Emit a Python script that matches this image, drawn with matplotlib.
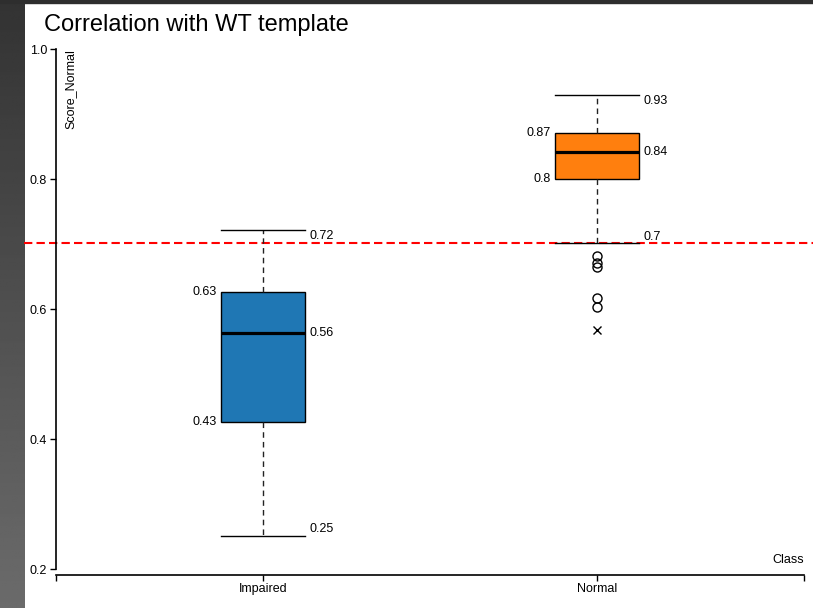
import matplotlib
matplotlib.use("Agg")
import matplotlib.pyplot as plt
import numpy as np

plt.rcParams['font.family'] = ['Liberation Sans', 'DejaVu Sans']

# ---- data ----
classes = ["Impaired", "Normal"]
whislo = [0.252, 0.702]
q1 = [0.427, 0.801]
med = [0.563, 0.842]
q3 = [0.627, 0.872]
whishi = [0.722, 0.929]
outliers = [[], [0.682, 0.671, 0.665, 0.617, 0.603]]
extremes = [[], [0.568]]
threshold = 0.702
box_colors = ["#1f77b4", "#ff7f0e"]
yticks = [0.2, 0.4, 0.6, 0.8, 1.0]

W, H = 813, 608
fig = plt.figure(figsize=(W / 100, H / 100), dpi=100, facecolor="white")

# left gradient strip and top dark strip
gax = fig.add_axes([0, 0, 24 / W, 1])
grad = np.linspace(0.2, 0.42, 256).reshape(-1, 1)
gax.imshow(grad, aspect="auto", cmap="gray", vmin=0, vmax=1, extent=[0, 1, 1, 0])
gax.axis("off")
fig.patches.append(plt.Rectangle((0, 1 - 3 / H), 1, 3 / H, transform=fig.transFigure,
                                 color="#2e2e2e", zorder=5))

left_px, right_px = 55.5, 804
top_px, bot_px = 49.3, 569.3
ax = fig.add_axes([left_px / W, 1 - bot_px / H, (right_px - left_px) / W, (bot_px - top_px) / H])
ax.set_facecolor("none")

positions = np.arange(len(classes))
stats = []
for i, c in enumerate(classes):
    stats.append(dict(label=c, whislo=whislo[i], q1=q1[i], med=med[i], q3=q3[i],
                      whishi=whishi[i], fliers=np.array(outliers[i])))

bp = ax.bxp(stats, positions=positions, widths=0.25, capwidths=0.25, patch_artist=True,
            showfliers=True,
            boxprops=dict(edgecolor="black", linewidth=1.0),
            medianprops=dict(color="black", linewidth=2.3),
            whiskerprops=dict(color="#222222", linewidth=1.0, linestyle=(0, (4, 3))),
            capprops=dict(color="black", linewidth=1.0),
            flierprops=dict(marker="o", markerfacecolor="none", markeredgecolor="black",
                            markersize=6.5, markeredgewidth=1.0, linestyle="none"))
for patch, col in zip(bp["boxes"], box_colors):
    patch.set_facecolor(col)

for i in positions:
    if extremes[i]:
        ax.plot([i] * len(extremes[i]), extremes[i], linestyle="none", marker="x",
                color="black", markersize=6, markeredgewidth=1.0)

# threshold line spanning the white area
ax.axhline(threshold, xmin=-(left_px - 24) / (right_px - left_px),
           xmax=1 + (W - right_px) / (right_px - left_px),
           color="red", linestyle=(0, (4, 2)), linewidth=1.5, clip_on=False, zorder=1)

def fmt(v):
    return f"{round(v, 2):g}"

hw = 0.125
dx = 0.015
fs = 9
for i in positions:
    ax.text(i + hw + dx, whishi[i], fmt(whishi[i]), ha="left", va="top", fontsize=fs)
    ax.text(i + hw + dx, med[i], fmt(med[i]), ha="left", va="center", fontsize=fs)
    ax.text(i + hw + dx, whislo[i], fmt(whislo[i]), ha="left", va="bottom", fontsize=fs)
    ax.text(i - hw - dx, q3[i], fmt(q3[i]), ha="right", va="center", fontsize=fs)
    ax.text(i - hw - dx, q1[i], fmt(q1[i]), ha="right", va="center", fontsize=fs)

xl = (-0.622, 1.62)
ax.set_xlim(*xl)
ax.set_ylim(0.2, 1.0)
ax.set_xticks([xl[0], 0, 1, xl[1]])
ax.set_xticklabels(["", classes[0], classes[1], ""])
ax.set_yticks(yticks)
ax.set_yticklabels([f"{t:.1f}" for t in yticks])
ax.tick_params(axis="both", length=4, width=1, color="black", pad=2, labelsize=fs)
ax.tick_params(axis="x", pad=1.5)
ax.spines["top"].set_visible(False)
ax.spines["right"].set_visible(False)
ax.spines["bottom"].set_position(("outward", 4.2))
ax.spines["left"].set_linewidth(1.2)
ax.spines["bottom"].set_linewidth(1.2)

ax.text(0.012, 1.0, "Score_Normal", transform=ax.transAxes, rotation=90,
        ha="left", va="top", fontsize=fs)
fig.text(right_px / W, 1 - 566 / H, "Class", ha="right", va="bottom", fontsize=fs)
fig.text(44 / W, 1 - 25 / H, "Correlation with WT template", ha="left", va="center",
         fontsize=17)

fig.savefig("out.png", dpi=100, facecolor="white")
